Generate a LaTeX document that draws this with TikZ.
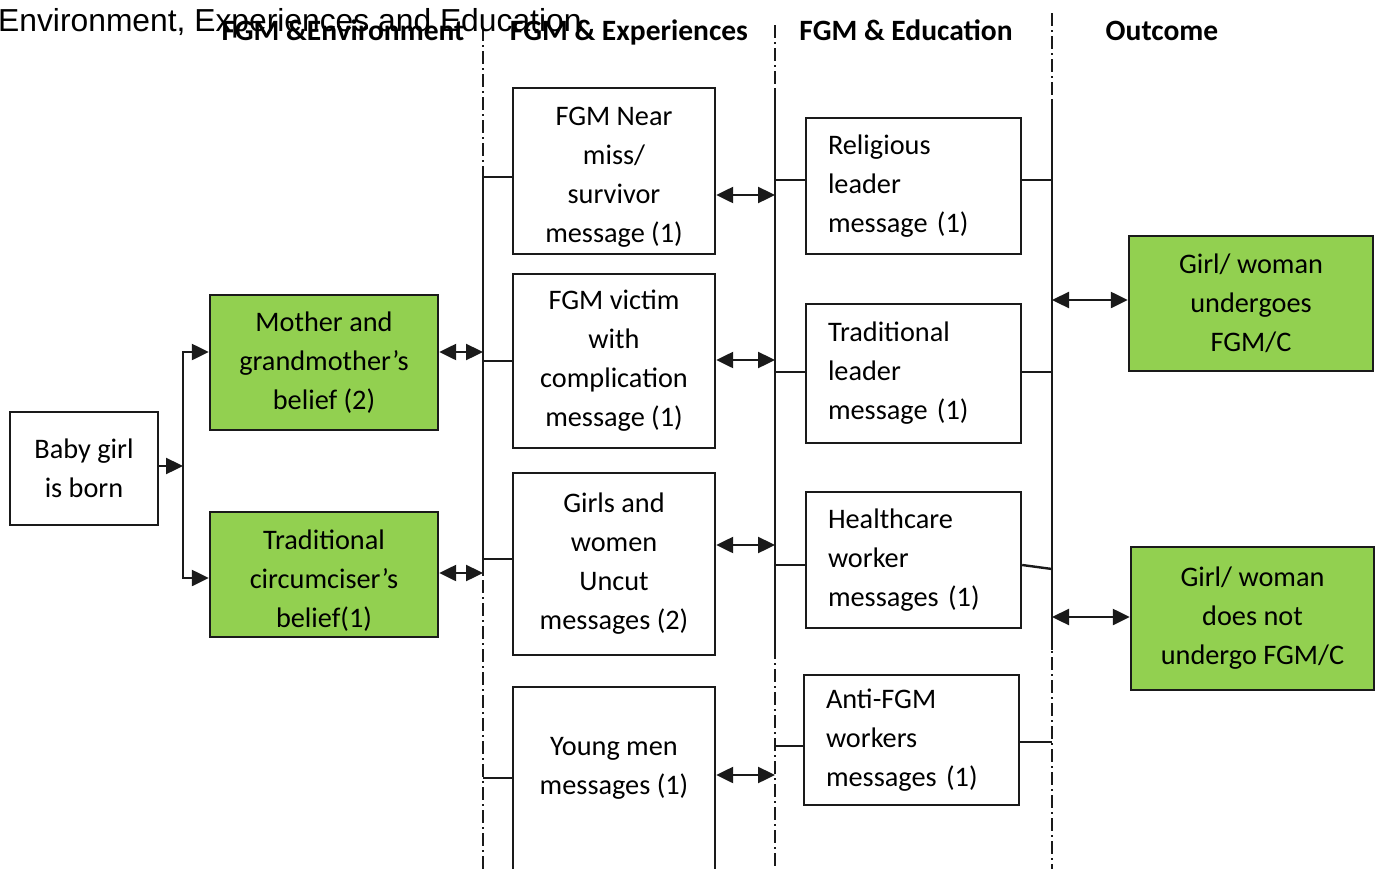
\documentclass[tikz,border=0pt]{standalone}
\usepackage{fontspec}
\setmainfont{Carlito}
\newfontfamily\titlefont{Liberation Sans}
\usetikzlibrary{arrows.meta}
\definecolor{boxgreen}{HTML}{92D050}
\definecolor{ink}{HTML}{1A1A1A}
\begin{document}
\begin{tikzpicture}[x=1pt,y=-1pt,
  box/.style={draw=ink, line width=2.4pt, inner sep=0pt, font=\fontsize{28.3}{39}\selectfont, text=black, align=center},
  gbox/.style={box, fill=boxgreen},
  lbox/.style={box, align=left, inner xsep=22pt},
  plain/.style={inner sep=0pt, font=\fontsize{28.3}{39}\selectfont, text=black, align=center},
  wire/.style={draw=ink, line width=2.4pt},
  dbl/.style={wire, {Triangle[length=17pt,width=16pt]}-{Triangle[length=17pt,width=16pt]}},
  arr/.style={wire, -{Triangle[length=17pt,width=16pt]}},
  divider/.style={draw=ink, line width=1.8pt, dash pattern=on 13pt off 4pt on 2pt off 4pt},
  hdr/.style={font=\fontsize{29.5}{30}\selectfont\bfseries, text=black, anchor=base, inner sep=0pt},
]
\useasboundingbox (0,0) rectangle (1385,868);
\fill[white] (0,0) rectangle (1385,868);

% dividers (dash-dot)
\coordinate (lTop) at (483,28);  \coordinate (lBot) at (483,870);
\coordinate (mTop) at (775,25);  \coordinate (mBot) at (775,870);
\coordinate (rTop) at (1052,13); \coordinate (rBot) at (1052,870);
\draw[divider] (lTop) -- (lBot);
\draw[divider] (mTop) -- (mBot);
\draw[divider] (rTop) -- (rBot);

% title and headers
\node[anchor=base west, inner sep=0pt, font=\titlefont\fontsize{31.8}{32}\selectfont, text=black] (title) at (-2,31) {Environment, Experiences and Education};
\node[hdr] (h1) at (343,40) {FGM \&Environment};
\node[hdr] (h2) at (629,40) {FGM \& Experiences};
\node[hdr] (h3) at (906,40) {FGM \& Education};
\node[hdr] (h4) at (1162,40) {Outcome};

% boxes
\node[box, minimum width=148pt, minimum height=113pt] (baby) at (84,468.5) {Baby girl\\is born};
\node[gbox, minimum width=228pt, minimum height=135pt] (mother) at (324,362.5) {Mother and\\grandmother’s\\belief (2)};
\node[gbox, minimum width=228pt, minimum height=125pt] (circ) at (324,574.5) {};
\node[plain] (circtext) at (324,581) {Traditional\\circumciser’s\\belief(1)};

\node[box, minimum width=202pt, minimum height=166pt] (near) at (614,171) {};
\node[plain] (neartext) at (614,177) {FGM Near\\miss/\\survivor\\message (1)};
\node[box, minimum width=202pt, minimum height=174pt] (victim) at (614,361) {FGM victim\\with\\complication\\message (1)};
\node[box, minimum width=202pt, minimum height=182pt] (girls) at (614,564) {Girls and\\women\\Uncut\\messages (2)};
\node[box, minimum width=202pt, minimum height=193pt] (young) at (614,783.5) {};
\node[plain] (youngtext) at (614,768) {Young men\\messages (1)};

\node[lbox, text width=171pt, minimum height=136pt] (relig) at (913.5,186) {Religious\\leader\\message (1)};
\node[lbox, text width=171pt, minimum height=139pt] (tradl) at (913.5,373.5) {Traditional\\leader\\message (1)};
\node[lbox, text width=171pt, minimum height=136pt] (health) at (913.5,560) {Healthcare\\worker\\messages (1)};
\node[lbox, text width=171pt, minimum height=130pt] (anti) at (911.5,740) {Anti-FGM\\workers\\messages (1)};

\node[gbox, minimum width=244pt, minimum height=135pt] (under) at (1251,303.5) {Girl/ woman\\undergoes\\FGM/C};
\node[gbox, minimum width=243pt, minimum height=143pt] (notund) at (1252.5,618.5) {Girl/ woman\\does not\\undergo FGM/C};

% fork from baby
\coordinate (fk) at (183,466);
\coordinate (fkM) at (183,352);
\coordinate (fkT) at (183,578);
\draw[arr] (fk -| baby.east) -- (fk);
\draw[wire, line cap=rect] (fkM) -- (fkT);
\draw[arr] (fkM) -- (fkM -| mother.west);
\draw[arr] (fkT) -- (fkT -| circ.west);

% left bus
\coordinate (lbA) at (483,177);
\coordinate (lbB) at (483,361);
\coordinate (lbC) at (483,559);
\coordinate (lbD) at (483,778);
\coordinate (lbM) at (483,352);
\coordinate (lbT) at (483,573);
\coordinate (lbEnd) at (483,575);
\draw[wire] (lbA) -- (lbEnd);
\draw[wire, line cap=rect] (lbA) -- (lbA -| near.west);
\draw[wire] (lbB) -- (lbB -| victim.west);
\draw[wire] (lbC) -- (lbC -| girls.west);
\draw[wire] (lbD) -- (lbD -| young.west);
\draw[dbl] (lbM -| mother.east) -- (lbM);
\draw[dbl] (lbT -| circ.east) -- (lbT);

% middle bus
\coordinate (mbTop) at (775,88);
\coordinate (mbEnd) at (775,650);
\draw[wire] (mbTop) -- (mbEnd);
\coordinate (mb1) at (775,195);
\coordinate (mb2) at (775,360);
\coordinate (mb3) at (775,545);
\coordinate (mb4) at (775,775);
\draw[dbl] (mb1 -| near.east) -- (mb1);
\draw[dbl] (mb2 -| victim.east) -- (mb2);
\draw[dbl] (mb3 -| girls.east) -- (mb3);
\draw[dbl] (mb4 -| young.east) -- (mb4);
\coordinate (mr1) at (775,180);
\coordinate (mr2) at (775,372);
\coordinate (mr3) at (775,565);
\coordinate (mr4) at (775,746);
\draw[wire] (mr1) -- (mr1 -| relig.west);
\draw[wire] (mr2) -- (mr2 -| tradl.west);
\draw[wire] (mr3) -- (mr3 -| health.west);
\draw[wire] (mr4) -- (mr4 -| anti.west);

% right bus
\coordinate (rbTop) at (1052,100);
\coordinate (rbEnd) at (1052,650);
\draw[wire] (rbTop) -- (rbEnd);
\coordinate (rr1) at (1052,180);
\coordinate (rr2) at (1052,372);
\coordinate (rr3) at (1052,569);
\coordinate (rr4) at (1052,742);
\draw[wire] (rr1 -| relig.east) -- (rr1);
\draw[wire] (rr2 -| tradl.east) -- (rr2);
\draw[wire] ([yshift=-5pt]health.east) -- (rr3);
\draw[wire] (rr4 -| anti.east) -- (rr4);
\coordinate (ro1) at (1052,300);
\coordinate (ro2) at (1052,617);
\draw[dbl] (ro1) -- (ro1 -| under.west);
\draw[dbl] (ro2) -- (ro2 -| notund.west);
\end{tikzpicture}
\end{document}
